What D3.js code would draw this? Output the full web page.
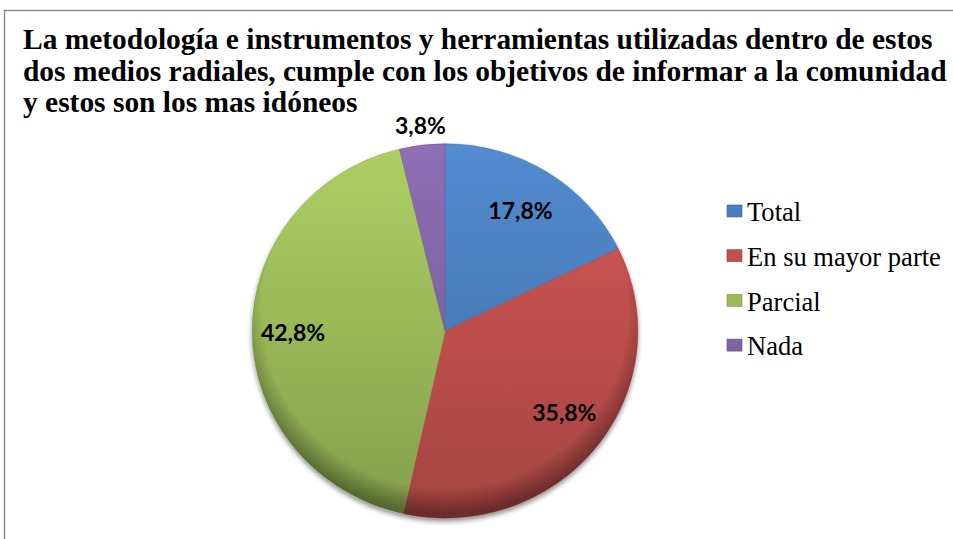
<!DOCTYPE html>
<html lang="es">
<head>
<meta charset="utf-8">
<script src="https://d3js.org/d3.v7.min.js"></script>
<style>
  body { margin: 0; background: white; }
  svg { display: block; }
</style>
</head>
<body>
<svg width="953" height="539"></svg>
<script>
// data
const categories = ["Total", "En su mayor parte", "Parcial", "Nada"];
const values = [17.8, 35.8, 42.8, 3.8];
const labels = ["17,8%", "35,8%", "42,8%", "3,8%"];
const colors = ["#4a7ebb", "#c0504d", "#9bbb59", "#8064a2"];
const titleLines = [
  "La metodología e instrumentos y herramientas utilizadas dentro de estos",
  "dos medios radiales, cumple con los objetivos de informar a la comunidad",
  "y estos son los mas idóneos"
];

const serif = "Liberation Serif";
const svg = d3.select("svg");

// frame
svg.append("rect")
  .attr("x", 4.5).attr("y", 10.5)
  .attr("width", 980).attr("height", 560)
  .attr("fill", "none").attr("stroke", "#8c8c8c").attr("stroke-width", 1.5);

// title, sized so the second line spans about 924px like the original
const title = svg.append("text")
  .style("font-family", serif).style("font-weight", "bold").style("font-size", "24px")
  .attr("fill", "#000");
title.selectAll("tspan").data(titleLines).join("tspan")
  .attr("x", 23).attr("y", (d, i) => 49 + i * 31.5)
  .text(d => d);
const w2 = title.selectAll("tspan").nodes()[1].getComputedTextLength();
title.style("font-size", (24 * 924 / w2).toFixed(2) + "px");

// gradients
const defs = svg.append("defs");
colors.forEach((c, i) => {
  const g = defs.append("linearGradient").attr("id", "g" + i)
    .attr("gradientUnits", "userSpaceOnUse")
    .attr("x1", 0).attr("y1", -190).attr("x2", 0).attr("y2", 190);
  g.append("stop").attr("offset", "0%").attr("stop-color", d3.color(c).brighter(0.3));
  g.append("stop").attr("offset", "100%").attr("stop-color", d3.color(c).darker(0.45));
});
// darker rim near the lower edge
const rim = defs.append("radialGradient").attr("id", "rim")
  .attr("gradientUnits", "userSpaceOnUse").attr("cx", 0).attr("cy", -20).attr("r", 205);
rim.append("stop").attr("offset", "88%").attr("stop-color", "#000").attr("stop-opacity", 0);
rim.append("stop").attr("offset", "100%").attr("stop-color", "#000").attr("stop-opacity", 0.35);

const shadow = defs.append("filter").attr("id", "sh").attr("x", "-10%").attr("y", "-10%").attr("width", "120%").attr("height", "120%");
shadow.append("feGaussianBlur").attr("in", "SourceAlpha").attr("stdDeviation", 2.5);
shadow.append("feOffset").attr("dy", 3).attr("result", "o");
shadow.append("feComponentTransfer").append("feFuncA").attr("type", "linear").attr("slope", 0.45);
const mg = shadow.append("feMerge");
mg.append("feMergeNode");
mg.append("feMergeNode").attr("in", "SourceGraphic");

const cx = 445, cy = 331, r = 190;
const pie = d3.pie().sort(null).value(d => d);
const arcs = pie(values);
const arc = d3.arc().innerRadius(0).outerRadius(r);

const g = svg.append("g").attr("transform", `translate(${cx},${cy}) scale(1.015,0.985)`);
g.append("g").attr("filter", "url(#sh)")
  .selectAll("path").data(arcs).join("path")
  .attr("d", arc)
  .attr("fill", (d, i) => `url(#g${i})`)
  .attr("stroke", (d, i) => d3.color(colors[i]).darker(0.2))
  .attr("stroke-width", 0.6);
g.append("circle").attr("r", r).attr("fill", "url(#rim)");

// labels (along the middle of each slice, small angle nudges)
const labelArc = [0.75, 0.76, 0.8, 1.09];
const labelTurn = [0, -0.07, 0, 0];
const mid = (d, i) => (d.startAngle + d.endAngle) / 2 + labelTurn[i];
svg.append("g").selectAll("text").data(arcs).join("text")
  .style("font-family", "Lato").style("font-weight", "bold").style("font-size", "23px")
  .attr("fill", "#000")
  .attr("text-anchor", "middle")
  .attr("dominant-baseline", "central")
  .attr("x", (d, i) => cx + Math.sin(mid(d, i)) * r * labelArc[i])
  .attr("y", (d, i) => cy - Math.cos(mid(d, i)) * r * labelArc[i])
  .text((d, i) => labels[i]);

// legend
const legend = svg.append("g")
  .attr("transform", "translate(727,211)");
const row = legend.selectAll("g").data(categories).join("g")
  .attr("transform", (d, i) => `translate(0,${i * 44.7})`);
row.append("rect")
  .attr("x", 0).attr("y", -6).attr("width", 15).attr("height", 12)
  .attr("fill", (d, i) => colors[i])
  .attr("stroke", (d, i) => d3.color(colors[i]).darker(0.6)).attr("stroke-width", 0.6);
const lt = row.append("text").attr("x", 20).attr("y", 1).attr("dy", "0.35em")
  .style("font-family", serif).style("font-size", "24px").attr("fill", "#000")
  .text(d => d);
const lw = lt.nodes()[1].getComputedTextLength();
lt.style("font-size", (24 * 194 / lw).toFixed(2) + "px");
</script>
</body>
</html>
